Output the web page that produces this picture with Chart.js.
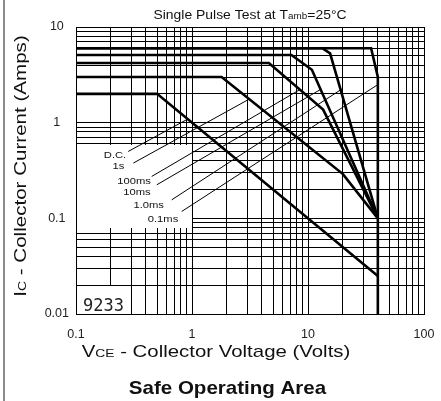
<!DOCTYPE html>
<html>
<head>
<meta charset="utf-8">
<script src="https://cdn.jsdelivr.net/npm/chart.js@4/dist/chart.umd.min.js"></script>
<style>
  html, body { margin: 0; padding: 0; background: #fff; }
  #wrap { position: relative; width: 441px; height: 401px; }
</style>
</head>
<body>
<div id="wrap"><canvas id="soa" width="441" height="401"></canvas></div>
<script>
// ---- grid ticks (log decades with 2..9 subdivisions) ----
const xTicks = [0.1,0.2,0.3,0.4,0.5,0.6,0.7,0.8,0.9,1,2,3,4,5,6,7,8,9,10,20,30,40,50,60,70,80,90,100];
const yTicks = [0.01,0.02,0.03,0.04,0.05,0.06,0.07,0.08,0.09,0.1,0.2,0.3,0.4,0.5,0.6,0.7,0.8,0.9,1,2,3,4,5,6,7,8,9,10];
const xLabelVals = [0.1, 1, 10, 100];
const xLabelText = ['0.1', '1', '10', '100'];
const yLabelVals = [0.01, 0.1, 1, 10];
const yLabelText = ['0.01', '0.1', '1', '10'];

// ---- SOA boundaries [Vce, Ic] ----
const dcCurve    = [[0.1, 2],   [0.5, 2],   [40, 0.025]];
const s1Curve    = [[0.1, 3],   [1.8, 3],   [20, 0.29],  [40, 0.1]];
const ms100Curve = [[0.1, 4.2], [4.6, 4.2], [13.5, 1.37], [40, 0.1]];
const ms10Curve  = [[0.1, 5.1], [7.2, 5.1], [10.8, 3.57], [40, 0.1]];
const ms1Curve   = [[0.1, 6],   [13.3, 6],  [15.5, 5.3], [40, 0.1]];
const ms01Curve  = [[0.1, 6],   [35, 6],    [40, 3],     [40, 0.01]];

// ---- leader lines from labels to curves [start, end] ----
const pulseLabels = ['D.C.', '1s', '100ms', '10ms', '1.0ms', '0.1ms'];
const leaderStart = [[0.282, 0.50], [0.312, 0.378], [0.449, 0.274], [0.497, 0.224], [0.668, 0.156], [0.815, 0.118]];
const leaderEnd   = [[0.905, 1.08], [3.16, 1.78],   [8.53, 2.22],   [12.8, 2.22],   [19.5, 2.24],   [40, 2.5]];

// white cut-outs in the grid
const legendBox = { v: [0.1, 1],   i: [0.08, 0.6] };
const idBox     = { v: [0.1, 0.3], i: [0.01, 0.02] };
const idText = '9233';

// label placement relative to leader start (px): right edge dx, baseline dy
const labelOffsets = [[-2, 6.7], [-9, 6], [-0.7, 7.7], [-6.2, 10.4], [-7.7, 8.4], [-3.4, 10.7]];

const SANS = '"Liberation Sans", Arial, Helvetica, sans-serif';

function toPts(arr) { return arr.map(p => ({ x: p[0], y: p[1] })); }

function curveSet(arr) {
    return { data: toPts(arr), showLine: true, borderColor: '#000', borderWidth: 2.6,
             pointRadius: 0, tension: 0, fill: false, borderJoinStyle: 'miter' };
}

const datasets = [dcCurve, s1Curve, ms100Curve, ms10Curve, ms1Curve, ms01Curve].map(curveSet);
pulseLabels.forEach(function(lbl, k) {
    datasets.push({ data: toPts([leaderStart[k], leaderEnd[k]]), showLine: true, borderColor: '#000',
                    borderWidth: 1, pointRadius: 0, tension: 0, fill: false });
});

// draw a run of text pieces (mixed sizes) centred on cx, stretched along the text direction
function drawRun(ctx, parts, cx, by, stretch, angle) {
    ctx.save();
    ctx.translate(cx, by);
    if (angle) ctx.rotate(angle);
    ctx.scale(stretch, 1);
    let w = 0;
    parts.forEach(p => { ctx.font = p.f; w += ctx.measureText(p.t).width; });
    let x = -w / 2;
    ctx.textAlign = 'left';
    ctx.textBaseline = 'alphabetic';
    ctx.fillStyle = '#111';
    parts.forEach(p => { ctx.font = p.f; ctx.fillText(p.t, x, 0); x += ctx.measureText(p.t).width; });
    ctx.restore();
}

function boxRect(ctx, sx, sy, box) {
    const l = Math.round(sx.getPixelForValue(box.v[0])) + 1;
    const r = Math.round(sx.getPixelForValue(box.v[1]));
    const t = Math.round(sy.getPixelForValue(box.i[1])) + 1;
    const b = Math.round(sy.getPixelForValue(box.i[0]));
    ctx.fillRect(l, t, r - l, b - t);
}

const decorPlugin = {
    id: 'decor',
    beforeDatasetsDraw(chart) {
        const ctx = chart.ctx, sx = chart.scales.x, sy = chart.scales.y;
        ctx.save();
        ctx.fillStyle = '#fff';
        boxRect(ctx, sx, sy, legendBox);
        boxRect(ctx, sx, sy, idBox);
        ctx.restore();
    },
    afterDraw(chart) {
        const ctx = chart.ctx, sx = chart.scales.x, sy = chart.scales.y;
        // page frame line on the left
        ctx.save();
        ctx.fillStyle = '#8a8a8a';
        ctx.fillRect(3, 0, 2, 401);
        ctx.restore();

        // pulse width labels
        pulseLabels.forEach(function(lbl, k) {
            const px = sx.getPixelForValue(leaderStart[k][0]);
            const py = sy.getPixelForValue(leaderStart[k][1]);
            ctx.save();
            ctx.font = '9.5px ' + SANS;
            const w = ctx.measureText(lbl).width * 1.18;
            ctx.restore();
            drawRun(ctx, [{ t: lbl, f: '9.5px ' + SANS }], px + labelOffsets[k][0] - w / 2, py + labelOffsets[k][1], 1.18, 0);
        });

        // id number in the lower-left cell
        ctx.save();
        ctx.font = '17px "DejaVu Sans Mono", monospace';
        ctx.fillStyle = '#222';
        ctx.textBaseline = 'alphabetic';
        ctx.fillText(idText, sx.getPixelForValue(idBox.v[0]) + 7, sy.getPixelForValue(idBox.i[0]) - 3);
        ctx.restore();

        const mid = (chart.chartArea.left + chart.chartArea.right) / 2;
        drawRun(ctx, [
            { t: 'Single Pulse Test at T', f: '12px ' + SANS },
            { t: 'amb', f: '8.5px ' + SANS },
            { t: '=25°C', f: '12px ' + SANS }
        ], mid, 18.5, 1.16, 0);

        drawRun(ctx, [
            { t: 'V', f: '17px ' + SANS },
            { t: 'CE', f: '11.5px ' + SANS },
            { t: ' - Collector Voltage (Volts)', f: '17px ' + SANS }
        ], 216, 357, 1.2, 0);

        drawRun(ctx, [
            { t: 'I', f: '17px ' + SANS },
            { t: 'C', f: '11.5px ' + SANS },
            { t: ' - Collector Current (Amps)', f: '17px ' + SANS }
        ], 26, 166, 1.21, -Math.PI / 2);

        drawRun(ctx, [{ t: 'Safe Operating Area', f: 'bold 19px ' + SANS }], 227.5, 394, 1.08, 0);
    }
};

new Chart(document.getElementById('soa'), {
    type: 'scatter',
    data: { datasets: datasets },
    options: {
        responsive: false,
        animation: false,
        devicePixelRatio: 1,
        layout: { padding: { left: 36, right: 17, top: 27, bottom: 57 } },
        plugins: { legend: { display: false }, tooltip: { enabled: false } },
        scales: {
            x: {
                type: 'logarithmic', min: 0.1, max: 100,
                afterBuildTicks: s => { s.ticks = xTicks.map(v => ({ value: v })); },
                afterFit: s => { s.height = 30; },
                grid: { color: '#000', lineWidth: 1, drawTicks: true, tickLength: 13, tickColor: 'rgba(0,0,0,0)' },
                border: { color: '#000', width: 1 },
                ticks: {
                    autoSkip: false, maxRotation: 0, padding: 0, color: '#222',
                    font: { family: SANS, size: 12.5 },
                    callback: v => { const k = xLabelVals.indexOf(v); return k >= 0 ? xLabelText[k] : ''; }
                }
            },
            y: {
                type: 'logarithmic', min: 0.01, max: 10,
                afterBuildTicks: s => { s.ticks = yTicks.map(v => ({ value: v })); },
                afterFit: s => { s.width = 40; },
                grid: { color: '#000', lineWidth: 1, drawTicks: false },
                border: { color: '#000', width: 1 },
                ticks: {
                    autoSkip: false, padding: 7, crossAlign: 'center', color: '#222',
                    font: { family: SANS, size: 12.5 },
                    callback: v => { const k = yLabelVals.indexOf(v); return k >= 0 ? yLabelText[k] : ''; }
                }
            }
        }
    },
    plugins: [decorPlugin]
});
</script>
</body>
</html>
